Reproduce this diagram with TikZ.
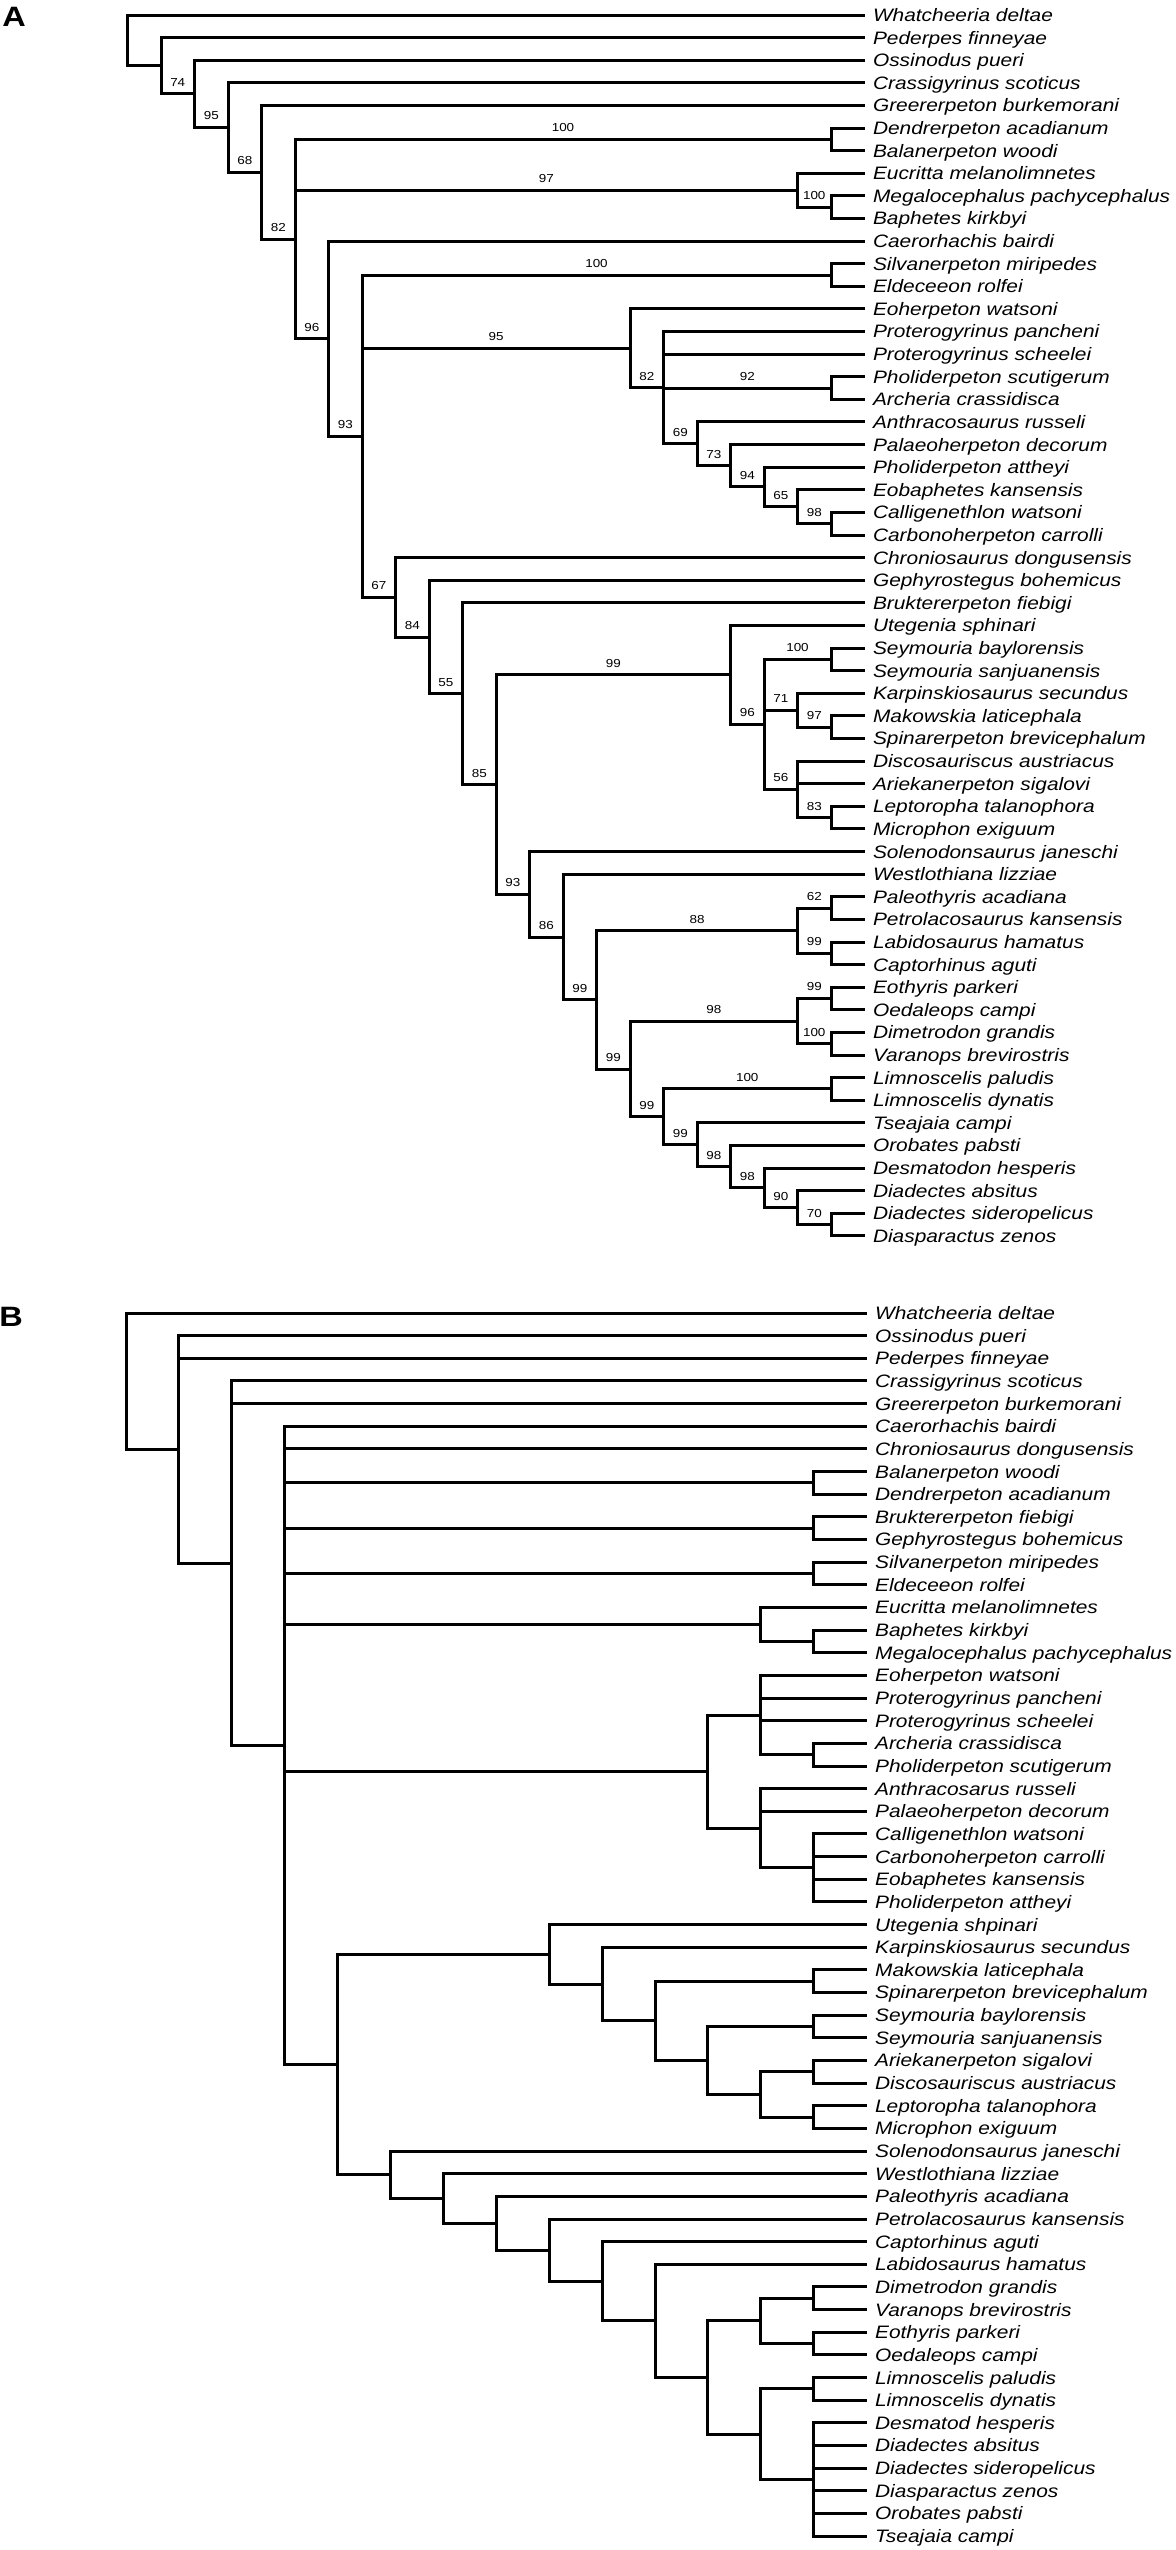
\documentclass[tikz,border=0pt]{standalone}
\usepackage{fontspec}
\setmainfont{Liberation Sans}[FakeStretch=1.16]
\usepackage{tikz}

\begin{document}
\begin{tikzpicture}[x=0.5pt, y=-0.5pt,
  taxon/.style={anchor=west, inner xsep=3.5pt, inner ysep=0pt, text height=6.45pt, text depth=0pt, font=\fontsize{9}{10}\selectfont\itshape},
  support/.style={pos=0.75, anchor=south, inner sep=0pt, yshift=3pt, font=\fontsize{5.8}{7}\selectfont},
  panel/.style={inner sep=0pt, font=\fontsize{14}{16}\selectfont\bfseries}]
\useasboundingbox (0,0) rectangle (1175,2550);
\node[panel] (PA) at (14,17) {A};
\node[panel] (PB) at (11,1317) {B};

\begin{scope}[shift={(63.75pt,3.805pt)}, x=16.75pt, y=-11.305pt, line width=1.5pt]
\node[taxon] (A01) at (22,1) {Whatcheeria deltae};
\node[taxon] (A02) at (22,2) {Pederpes finneyae};
\node[taxon] (A03) at (22,3) {Ossinodus pueri};
\node[taxon] (A04) at (22,4) {Crassigyrinus scoticus};
\node[taxon] (A05) at (22,5) {Greererpeton burkemorani};
\node[taxon] (A06) at (22,6) {Dendrerpeton acadianum};
\node[taxon] (A07) at (22,7) {Balanerpeton woodi};
\node[taxon] (A08) at (22,8) {Eucritta melanolimnetes};
\node[taxon] (A09) at (22,9) {Megalocephalus pachycephalus};
\node[taxon] (A10) at (22,10) {Baphetes kirkbyi};
\node[taxon] (A11) at (22,11) {Caerorhachis bairdi};
\node[taxon] (A12) at (22,12) {Silvanerpeton miripedes};
\node[taxon] (A13) at (22,13) {Eldeceeon rolfei};
\node[taxon] (A14) at (22,14) {Eoherpeton watsoni};
\node[taxon] (A15) at (22,15) {Proterogyrinus pancheni};
\node[taxon] (A16) at (22,16) {Proterogyrinus scheelei};
\node[taxon] (A17) at (22,17) {Pholiderpeton scutigerum};
\node[taxon] (A18) at (22,18) {Archeria crassidisca};
\node[taxon] (A19) at (22,19) {Anthracosaurus russeli};
\node[taxon] (A20) at (22,20) {Palaeoherpeton decorum};
\node[taxon] (A21) at (22,21) {Pholiderpeton attheyi};
\node[taxon] (A22) at (22,22) {Eobaphetes kansensis};
\node[taxon] (A23) at (22,23) {Calligenethlon watsoni};
\node[taxon] (A24) at (22,24) {Carbonoherpeton carrolli};
\node[taxon] (A25) at (22,25) {Chroniosaurus dongusensis};
\node[taxon] (A26) at (22,26) {Gephyrostegus bohemicus};
\node[taxon] (A27) at (22,27) {Bruktererpeton fiebigi};
\node[taxon] (A28) at (22,28) {Utegenia sphinari};
\node[taxon] (A29) at (22,29) {Seymouria baylorensis};
\node[taxon] (A30) at (22,30) {Seymouria sanjuanensis};
\node[taxon] (A31) at (22,31) {Karpinskiosaurus secundus};
\node[taxon] (A32) at (22,32) {Makowskia laticephala};
\node[taxon] (A33) at (22,33) {Spinarerpeton brevicephalum};
\node[taxon] (A34) at (22,34) {Discosauriscus austriacus};
\node[taxon] (A35) at (22,35) {Ariekanerpeton sigalovi};
\node[taxon] (A36) at (22,36) {Leptoropha talanophora};
\node[taxon] (A37) at (22,37) {Microphon exiguum};
\node[taxon] (A38) at (22,38) {Solenodonsaurus janeschi};
\node[taxon] (A39) at (22,39) {Westlothiana lizziae};
\node[taxon] (A40) at (22,40) {Paleothyris acadiana};
\node[taxon] (A41) at (22,41) {Petrolacosaurus kansensis};
\node[taxon] (A42) at (22,42) {Labidosaurus hamatus};
\node[taxon] (A43) at (22,43) {Captorhinus aguti};
\node[taxon] (A44) at (22,44) {Eothyris parkeri};
\node[taxon] (A45) at (22,45) {Oedaleops campi};
\node[taxon] (A46) at (22,46) {Dimetrodon grandis};
\node[taxon] (A47) at (22,47) {Varanops brevirostris};
\node[taxon] (A48) at (22,48) {Limnoscelis paludis};
\node[taxon] (A49) at (22,49) {Limnoscelis dynatis};
\node[taxon] (A50) at (22,50) {Tseajaia campi};
\node[taxon] (A51) at (22,51) {Orobates pabsti};
\node[taxon] (A52) at (22,52) {Desmatodon hesperis};
\node[taxon] (A53) at (22,53) {Diadectes absitus};
\node[taxon] (A54) at (22,54) {Diadectes sideropelicus};
\node[taxon] (A55) at (22,55) {Diasparactus zenos};

\coordinate (a0) at (0,2.122);
\coordinate (a1) at (1,3.244);
\coordinate (a2) at (2,4.488);
\coordinate (a3) at (3,5.977);
\coordinate (a4) at (4,7.954);
\coordinate (a5) at (5,10.907);
\coordinate (a6) at (6,15.314);
\coordinate (a7) at (7,19.628);
\coordinate (a8) at (8,26.755);
\coordinate (a9) at (9,28.510);
\coordinate (a10) at (10,31.019);
\coordinate (a11) at (11,35.039);
\coordinate (a12) at (12,39.890);
\coordinate (a13) at (13,41.779);
\coordinate (a14) at (14,44.559);
\coordinate (a15) at (15,47.617);
\coordinate (a16) at (16,49.734);
\coordinate (a17) at (17,50.969);
\coordinate (a18) at (18,51.938);
\coordinate (a19) at (19,52.875);
\coordinate (a20) at (20,53.75);
\coordinate (a21) at (21,54.5);
\coordinate (aDB) at (21,6.5);
\coordinate (aEu) at (20,8.75);
\coordinate (aMB) at (21,9.5);
\coordinate (aSE) at (21,12.5);
\coordinate (aEo) at (15,15.742);
\coordinate (aPr) at (16,17.484);
\coordinate (aPA) at (21,17.5);
\coordinate (aAn) at (17,19.969);
\coordinate (aPa) at (18,20.938);
\coordinate (aPh) at (19,21.875);
\coordinate (aEb) at (20,22.75);
\coordinate (aCC) at (21,23.5);
\coordinate (aUt) at (18,30.188);
\coordinate (aSy) at (19,32.375);
\coordinate (aSS) at (21,29.5);
\coordinate (aKa) at (20,31.75);
\coordinate (aMS) at (21,32.5);
\coordinate (aDi) at (20,35.25);
\coordinate (aLM) at (21,36.5);
\coordinate (aPP) at (20,41.5);
\coordinate (aPe) at (21,40.5);
\coordinate (aLC) at (21,42.5);
\coordinate (aSa) at (20,45.5);
\coordinate (aEO) at (21,44.5);
\coordinate (aDV) at (21,46.5);
\coordinate (aLi) at (21,48.5);

\draw (a0) |- (A01);
\draw (a0) |- (a1);
\draw (a1) |- (A02);
\draw (a1) |- node[support] {74} (a2);
\draw (a2) |- (A03);
\draw (a2) |- node[support] {95} (a3);
\draw (a3) |- (A04);
\draw (a3) |- node[support] {68} (a4);
\draw (a4) |- (A05);
\draw (a4) |- node[support] {82} (a5);
\draw (a5) |- node[support] {100} (aDB);
\draw (a5) |- node[support] {97} (aEu);
\draw (a5) |- node[support] {96} (a6);
\draw (aDB) |- (A06);
\draw (aDB) |- (A07);
\draw (aEu) |- (A08);
\draw (aEu) |- node[support] {100} (aMB);
\draw (aMB) |- (A09);
\draw (aMB) |- (A10);
\draw (a6) |- (A11);
\draw (a6) |- node[support] {93} (a7);
\draw (a7) |- node[support] {100} (aSE);
\draw (a7) |- node[support] {95} (aEo);
\draw (a7) |- node[support] {67} (a8);
\draw (aSE) |- (A12);
\draw (aSE) |- (A13);
\draw (aEo) |- (A14);
\draw (aEo) |- node[support] {82} (aPr);
\draw (aPr) |- (A15);
\draw (aPr) |- (A16);
\draw (aPr) |- node[support] {92} (aPA);
\draw (aPr) |- node[support] {69} (aAn);
\draw (aPA) |- (A17);
\draw (aPA) |- (A18);
\draw (aAn) |- (A19);
\draw (aAn) |- node[support] {73} (aPa);
\draw (aPa) |- (A20);
\draw (aPa) |- node[support] {94} (aPh);
\draw (aPh) |- (A21);
\draw (aPh) |- node[support] {65} (aEb);
\draw (aEb) |- (A22);
\draw (aEb) |- node[support] {98} (aCC);
\draw (aCC) |- (A23);
\draw (aCC) |- (A24);
\draw (a8) |- (A25);
\draw (a8) |- node[support] {84} (a9);
\draw (a9) |- (A26);
\draw (a9) |- node[support] {55} (a10);
\draw (a10) |- (A27);
\draw (a10) |- node[support] {85} (a11);
\draw (a11) |- node[support] {99} (aUt);
\draw (a11) |- node[support] {93} (a12);
\draw (aUt) |- (A28);
\draw (aUt) |- node[support] {96} (aSy);
\draw (aSy) |- node[support] {100} (aSS);
\draw (aSy) |- node[support] {71} (aKa);
\draw (aSy) |- node[support] {56} (aDi);
\draw (aSS) |- (A29);
\draw (aSS) |- (A30);
\draw (aKa) |- (A31);
\draw (aKa) |- node[support] {97} (aMS);
\draw (aMS) |- (A32);
\draw (aMS) |- (A33);
\draw (aDi) |- (A34);
\draw (aDi) |- (A35);
\draw (aDi) |- node[support] {83} (aLM);
\draw (aLM) |- (A36);
\draw (aLM) |- (A37);
\draw (a12) |- (A38);
\draw (a12) |- node[support] {86} (a13);
\draw (a13) |- (A39);
\draw (a13) |- node[support] {99} (a14);
\draw (a14) |- node[support] {88} (aPP);
\draw (a14) |- node[support] {99} (a15);
\draw (aPP) |- node[support] {62} (aPe);
\draw (aPP) |- node[support] {99} (aLC);
\draw (aPe) |- (A40);
\draw (aPe) |- (A41);
\draw (aLC) |- (A42);
\draw (aLC) |- (A43);
\draw (a15) |- node[support] {98} (aSa);
\draw (a15) |- node[support] {99} (a16);
\draw (aSa) |- node[support] {99} (aEO);
\draw (aSa) |- node[support] {100} (aDV);
\draw (aEO) |- (A44);
\draw (aEO) |- (A45);
\draw (aDV) |- (A46);
\draw (aDV) |- (A47);
\draw (a16) |- node[support] {100} (aLi);
\draw (a16) |- node[support] {99} (a17);
\draw (aLi) |- (A48);
\draw (aLi) |- (A49);
\draw (a17) |- (A50);
\draw (a17) |- node[support] {98} (a18);
\draw (a18) |- (A51);
\draw (a18) |- node[support] {98} (a19);
\draw (a19) |- (A52);
\draw (a19) |- node[support] {90} (a20);
\draw (a20) |- (A53);
\draw (a20) |- node[support] {70} (a21);
\draw (a21) |- (A54);
\draw (a21) |- (A55);
\end{scope}

\begin{scope}[shift={(63pt,-645.175pt)}, x=26.45pt, y=-11.325pt, line width=1.5pt]
\node[taxon] (B01) at (14,1) {Whatcheeria deltae};
\node[taxon] (B02) at (14,2) {Ossinodus pueri};
\node[taxon] (B03) at (14,3) {Pederpes finneyae};
\node[taxon] (B04) at (14,4) {Crassigyrinus scoticus};
\node[taxon] (B05) at (14,5) {Greererpeton burkemorani};
\node[taxon] (B06) at (14,6) {Caerorhachis bairdi};
\node[taxon] (B07) at (14,7) {Chroniosaurus dongusensis};
\node[taxon] (B08) at (14,8) {Balanerpeton woodi};
\node[taxon] (B09) at (14,9) {Dendrerpeton acadianum};
\node[taxon] (B10) at (14,10) {Bruktererpeton fiebigi};
\node[taxon] (B11) at (14,11) {Gephyrostegus bohemicus};
\node[taxon] (B12) at (14,12) {Silvanerpeton miripedes};
\node[taxon] (B13) at (14,13) {Eldeceeon rolfei};
\node[taxon] (B14) at (14,14) {Eucritta melanolimnetes};
\node[taxon] (B15) at (14,15) {Baphetes kirkbyi};
\node[taxon] (B16) at (14,16) {Megalocephalus pachycephalus};
\node[taxon] (B17) at (14,17) {Eoherpeton watsoni};
\node[taxon] (B18) at (14,18) {Proterogyrinus pancheni};
\node[taxon] (B19) at (14,19) {Proterogyrinus scheelei};
\node[taxon] (B20) at (14,20) {Archeria crassidisca};
\node[taxon] (B21) at (14,21) {Pholiderpeton scutigerum};
\node[taxon] (B22) at (14,22) {Anthracosarus russeli};
\node[taxon] (B23) at (14,23) {Palaeoherpeton decorum};
\node[taxon] (B24) at (14,24) {Calligenethlon watsoni};
\node[taxon] (B25) at (14,25) {Carbonoherpeton carrolli};
\node[taxon] (B26) at (14,26) {Eobaphetes kansensis};
\node[taxon] (B27) at (14,27) {Pholiderpeton attheyi};
\node[taxon] (B28) at (14,28) {Utegenia shpinari};
\node[taxon] (B29) at (14,29) {Karpinskiosaurus secundus};
\node[taxon] (B30) at (14,30) {Makowskia laticephala};
\node[taxon] (B31) at (14,31) {Spinarerpeton brevicephalum};
\node[taxon] (B32) at (14,32) {Seymouria baylorensis};
\node[taxon] (B33) at (14,33) {Seymouria sanjuanensis};
\node[taxon] (B34) at (14,34) {Ariekanerpeton sigalovi};
\node[taxon] (B35) at (14,35) {Discosauriscus austriacus};
\node[taxon] (B36) at (14,36) {Leptoropha talanophora};
\node[taxon] (B37) at (14,37) {Microphon exiguum};
\node[taxon] (B38) at (14,38) {Solenodonsaurus janeschi};
\node[taxon] (B39) at (14,39) {Westlothiana lizziae};
\node[taxon] (B40) at (14,40) {Paleothyris acadiana};
\node[taxon] (B41) at (14,41) {Petrolacosaurus kansensis};
\node[taxon] (B42) at (14,42) {Captorhinus aguti};
\node[taxon] (B43) at (14,43) {Labidosaurus hamatus};
\node[taxon] (B44) at (14,44) {Dimetrodon grandis};
\node[taxon] (B45) at (14,45) {Varanops brevirostris};
\node[taxon] (B46) at (14,46) {Eothyris parkeri};
\node[taxon] (B47) at (14,47) {Oedaleops campi};
\node[taxon] (B48) at (14,48) {Limnoscelis paludis};
\node[taxon] (B49) at (14,49) {Limnoscelis dynatis};
\node[taxon] (B50) at (14,50) {Desmatod hesperis};
\node[taxon] (B51) at (14,51) {Diadectes absitus};
\node[taxon] (B52) at (14,52) {Diadectes sideropelicus};
\node[taxon] (B53) at (14,53) {Diasparactus zenos};
\node[taxon] (B54) at (14,54) {Orobates pabsti};
\node[taxon] (B55) at (14,55) {Tseajaia campi};

\coordinate (b0) at (0,4.011);
\coordinate (b1) at (1,7.0225);
\coordinate (b2) at (2,12.045);
\coordinate (b3) at (3,20.09);
\coordinate (b4) at (4,34.18);
\coordinate (b5) at (5,39.047);
\coordinate (b6) at (6,40.094);
\coordinate (b7) at (7,41.1875);
\coordinate (b8) at (8,42.375);
\coordinate (b9) at (9,43.75);
\coordinate (b10) at (10,45.5);
\coordinate (b11) at (11,48);
\coordinate (bBD) at (13,8.5);
\coordinate (bBG) at (13,10.5);
\coordinate (bSE) at (13,12.5);
\coordinate (bEu) at (12,14.75);
\coordinate (bBM) at (13,15.5);
\coordinate (bEo) at (11,21.25);
\coordinate (bPr) at (12,18.75);
\coordinate (bAP) at (13,20.5);
\coordinate (bAn) at (12,23.75);
\coordinate (bCC) at (13,25.5);
\coordinate (bUt) at (8,29.3125);
\coordinate (bKa) at (9,30.625);
\coordinate (bMa) at (10,32.25);
\coordinate (bMS) at (13,30.5);
\coordinate (bSy) at (11,34);
\coordinate (bSS) at (13,32.5);
\coordinate (bAD) at (12,35.5);
\coordinate (bAr) at (13,34.5);
\coordinate (bLM) at (13,36.5);
\coordinate (bSa) at (12,45.5);
\coordinate (bDV) at (13,44.5);
\coordinate (bEO) at (13,46.5);
\coordinate (bLi) at (12,50.5);
\coordinate (bLP) at (13,48.5);
\coordinate (bDD) at (13,52.5);

\draw (b0) |- (B01);
\draw (b0) |- (b1);
\draw (b1) |- (B02);
\draw (b1) |- (B03);
\draw (b1) |- (b2);
\draw (b2) |- (B04);
\draw (b2) |- (B05);
\draw (b2) |- (b3);
\draw (b3) |- (B06);
\draw (b3) |- (B07);
\draw (b3) |- (bBD);
\draw (b3) |- (bBG);
\draw (b3) |- (bSE);
\draw (b3) |- (bEu);
\draw (b3) |- (bEo);
\draw (b3) |- (b4);
\draw (bBD) |- (B08);
\draw (bBD) |- (B09);
\draw (bBG) |- (B10);
\draw (bBG) |- (B11);
\draw (bSE) |- (B12);
\draw (bSE) |- (B13);
\draw (bEu) |- (B14);
\draw (bEu) |- (bBM);
\draw (bBM) |- (B15);
\draw (bBM) |- (B16);
\draw (bEo) |- (bPr);
\draw (bEo) |- (bAn);
\draw (bPr) |- (B17);
\draw (bPr) |- (B18);
\draw (bPr) |- (B19);
\draw (bPr) |- (bAP);
\draw (bAP) |- (B20);
\draw (bAP) |- (B21);
\draw (bAn) |- (B22);
\draw (bAn) |- (B23);
\draw (bAn) |- (bCC);
\draw (bCC) |- (B24);
\draw (bCC) |- (B25);
\draw (bCC) |- (B26);
\draw (bCC) |- (B27);
\draw (b4) |- (bUt);
\draw (b4) |- (b5);
\draw (bUt) |- (B28);
\draw (bUt) |- (bKa);
\draw (bKa) |- (B29);
\draw (bKa) |- (bMa);
\draw (bMa) |- (bMS);
\draw (bMa) |- (bSy);
\draw (bMS) |- (B30);
\draw (bMS) |- (B31);
\draw (bSy) |- (bSS);
\draw (bSy) |- (bAD);
\draw (bSS) |- (B32);
\draw (bSS) |- (B33);
\draw (bAD) |- (bAr);
\draw (bAD) |- (bLM);
\draw (bAr) |- (B34);
\draw (bAr) |- (B35);
\draw (bLM) |- (B36);
\draw (bLM) |- (B37);
\draw (b5) |- (B38);
\draw (b5) |- (b6);
\draw (b6) |- (B39);
\draw (b6) |- (b7);
\draw (b7) |- (B40);
\draw (b7) |- (b8);
\draw (b8) |- (B41);
\draw (b8) |- (b9);
\draw (b9) |- (B42);
\draw (b9) |- (b10);
\draw (b10) |- (B43);
\draw (b10) |- (b11);
\draw (b11) |- (bSa);
\draw (b11) |- (bLi);
\draw (bSa) |- (bDV);
\draw (bSa) |- (bEO);
\draw (bDV) |- (B44);
\draw (bDV) |- (B45);
\draw (bEO) |- (B46);
\draw (bEO) |- (B47);
\draw (bLi) |- (bLP);
\draw (bLi) |- (bDD);
\draw (bLP) |- (B48);
\draw (bLP) |- (B49);
\draw (bDD) |- (B50);
\draw (bDD) |- (B51);
\draw (bDD) |- (B52);
\draw (bDD) |- (B53);
\draw (bDD) |- (B54);
\draw (bDD) |- (B55);
\end{scope}
\end{tikzpicture}
\end{document}
